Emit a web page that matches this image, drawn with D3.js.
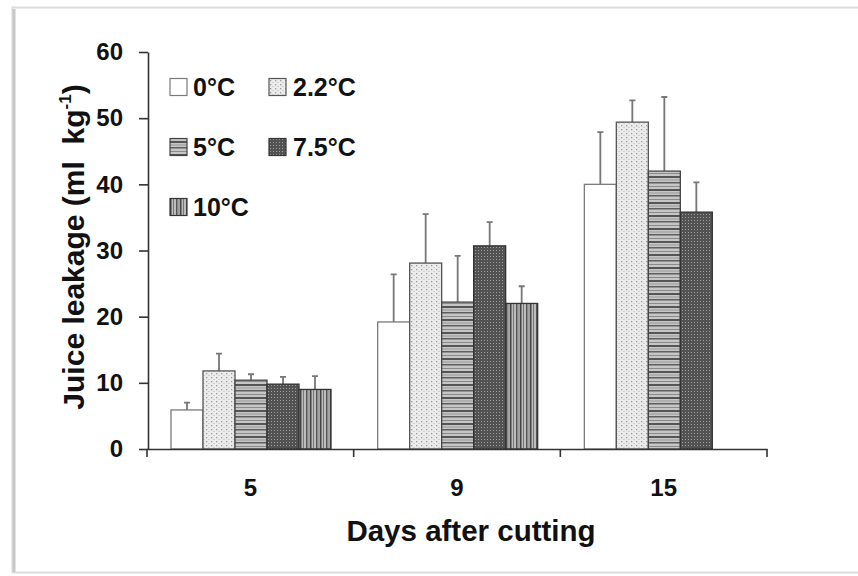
<!DOCTYPE html>
<html>
<head>
<meta charset="utf-8">
<script src="https://cdn.jsdelivr.net/npm/d3@7"></script>
<style>
  body { margin: 0; background: #fff; }
  svg { display: block; font-family: "Liberation Sans", Arial, Helvetica, sans-serif; }
</style>
</head>
<body>
<div id="chart"></div>
<script>
let days = ['5', '9', '15']
let temps = ['0°C', '2.2°C', '5°C', '7.5°C', '10°C']

// mean juice leakage per temperature, one value per day
let leak0 = [5.9, 19.2, 40.0]
let leak22 = [11.8, 28.1, 49.4]
let leak5 = [10.4, 22.2, 42.0]
let leak75 = [9.8, 30.7, 35.8]
let leak10 = [9.0, 22.0, null]

// upper error bar (added on top of the mean)
let err0 = [1.1, 7.2, 7.9]
let err22 = [2.6, 7.4, 3.3]
let err5 = [0.9, 7.0, 11.2]
let err75 = [1.1, 3.6, 4.5]
let err10 = [2.0, 2.6, null]

let yTicks = [0, 10, 20, 30, 40, 50, 60]

let means = [leak0, leak22, leak5, leak75, leak10]
let errs = [err0, err22, err5, err75, err10]
let fills = ['#fff', 'url(#p22)', 'url(#p5)', 'url(#p75)', 'url(#p10)']
let edges = ['#7a7a7a', '#555', '#444', '#333', '#333']

let width = 858,
    height = 576

let svg = d3.select('#chart').append('svg')
    .attr('width', width)
    .attr('height', height)

// card frame
svg.append('rect')
    .attr('x', 12.5).attr('y', 7.5)
    .attr('width', 900).attr('height', 565)
    .attr('fill', '#fff')
    .attr('stroke', '#dcdcdc')
    .attr('stroke-width', 2)
svg.append('line')
    .attr('x1', 14).attr('x2', 14).attr('y1', 9).attr('y2', 572)
    .attr('stroke', '#c8c8c8').attr('stroke-width', 3)

// patterns
let defs = svg.append('defs')

let p22 = defs.append('pattern').attr('id', 'p22')
    .attr('patternUnits', 'userSpaceOnUse').attr('width', 5).attr('height', 4)
p22.append('rect').attr('width', 5).attr('height', 4).attr('fill', '#ececec')
p22.append('rect').attr('x', 1).attr('y', 1).attr('width', 1.3).attr('height', 1.3).attr('fill', '#9a9a9a')
p22.append('rect').attr('x', 3.5).attr('y', 3).attr('width', 1).attr('height', 1).attr('fill', '#b5b5b5')

let p5 = defs.append('pattern').attr('id', 'p5')
    .attr('patternUnits', 'userSpaceOnUse').attr('width', 8).attr('height', 13)
p5.append('rect').attr('width', 8).attr('height', 13).attr('fill', '#c6c6c6')
p5.append('rect').attr('y', 0).attr('width', 8).attr('height', 1.5).attr('fill', '#5e5e5e')
p5.append('rect').attr('y', 4).attr('width', 8).attr('height', 1).attr('fill', '#8a8a8a')
p5.append('rect').attr('y', 7).attr('width', 8).attr('height', 2).attr('fill', '#555')
p5.append('rect').attr('y', 10.5).attr('width', 8).attr('height', 1).attr('fill', '#999')

let p75 = defs.append('pattern').attr('id', 'p75')
    .attr('patternUnits', 'userSpaceOnUse').attr('width', 3).attr('height', 3)
p75.append('rect').attr('width', 3).attr('height', 3).attr('fill', '#525252')
p75.append('rect').attr('x', 1).attr('y', 1).attr('width', 1).attr('height', 1).attr('fill', '#a0a0a0')

let p10 = defs.append('pattern').attr('id', 'p10')
    .attr('patternUnits', 'userSpaceOnUse').attr('width', 10).attr('height', 8)
p10.append('rect').attr('width', 10).attr('height', 8).attr('fill', '#bdbdbd')
p10.append('rect').attr('x', 0).attr('width', 1.5).attr('height', 8).attr('fill', '#444')
p10.append('rect').attr('x', 3).attr('width', 1).attr('height', 8).attr('fill', '#777')
p10.append('rect').attr('x', 6).attr('width', 1.5).attr('height', 8).attr('fill', '#555')
p10.append('rect').attr('x', 8.5).attr('width', 1).attr('height', 8).attr('fill', '#8a8a8a')

// scales
let x = d3.scaleBand().domain(days).range([147, 767])
let xInner = d3.scaleBand().domain(temps).range([24, 184])
let y = d3.scaleLinear().domain([0, 60]).range([449, 52])

// bars
let bars = svg.append('g')
temps.forEach(function(t, i) {
    let rows = days.map(function(d, j) {
        return { day: d, v: means[i][j], e: errs[i][j] }
    }).filter(function(r) { return r.v != null })

    // error bars first, so the bar covers the lower part
    bars.selectAll('.err' + i).data(rows).enter().append('path')
        .attr('fill', 'none')
        .attr('stroke', '#777')
        .attr('stroke-width', 1.8)
        .attr('d', function(r) {
            let cx = x(r.day) + xInner(t) + xInner.bandwidth() / 2
            return 'M' + cx + ',' + y(r.v) + 'V' + y(r.v + r.e) +
                'M' + (cx - 3) + ',' + y(r.v + r.e) + 'H' + (cx + 3)
        })

    bars.selectAll('.bar' + i).data(rows).enter().append('rect')
        .attr('x', function(r) { return x(r.day) + xInner(t) })
        .attr('y', function(r) { return y(r.v) })
        .attr('width', xInner.bandwidth())
        .attr('height', function(r) { return y(0) - y(r.v) })
        .attr('fill', fills[i])
        .attr('stroke', edges[i])
        .attr('stroke-width', 1.3)
})

// y axis
let yAxis = svg.append('g')
    .attr('transform', 'translate(148,0)')
    .call(d3.axisLeft(y).tickValues(yTicks).tickSize(9).tickPadding(16).tickSizeOuter(0))
yAxis.select('.domain').attr('stroke', '#333').attr('stroke-width', 1.6)
yAxis.selectAll('.tick line').attr('stroke', '#333').attr('stroke-width', 1.6)
yAxis.selectAll('.tick text')
    .attr('font-size', 24).attr('font-weight', 'bold').attr('fill', '#111')
    .attr('font-family', '"Liberation Sans", Arial, sans-serif')

// x axis
let xAxis = svg.append('g')
    .attr('transform', 'translate(0,449)')
    .call(d3.axisBottom(x).tickSize(0).tickPadding(30).tickSizeOuter(0))
xAxis.select('.domain').attr('stroke', '#333').attr('stroke-width', 1.6)
xAxis.selectAll('.tick text')
    .attr('font-size', 24).attr('font-weight', 'bold').attr('fill', '#111')
    .attr('font-family', '"Liberation Sans", Arial, sans-serif')
// ticks at the group boundaries
let bounds = days.map(function(d) { return x(d) }).concat([x.range()[1]])
xAxis.selectAll('.bound').data(bounds).enter().append('line')
    .attr('x1', function(d) { return d }).attr('x2', function(d) { return d })
    .attr('y1', 0).attr('y2', 8)
    .attr('stroke', '#333').attr('stroke-width', 1.6)

// axis titles
svg.append('text')
    .attr('x', 471).attr('y', 541)
    .attr('text-anchor', 'middle')
    .attr('font-size', 29.5).attr('font-weight', 'bold').attr('fill', '#111')
    .text('Days after cutting')

let yTitle = svg.append('text')
    .attr('transform', 'translate(84,247) rotate(-90)')
    .attr('text-anchor', 'middle')
    .attr('font-size', 30).attr('font-weight', 'bold').attr('fill', '#111')
yTitle.append('tspan').text('Juice leakage (ml\u00a0\u00a0kg')
yTitle.append('tspan').attr('font-size', 17).attr('dy', -13).text('-1')
yTitle.append('tspan').attr('dy', 13).text(')')

// legend
let legendPos = [[170, 87], [269, 87], [170, 147], [269, 147], [170, 207]]
let legend = svg.append('g')
temps.forEach(function(t, i) {
    let g = legend.append('g')
        .attr('transform', 'translate(' + legendPos[i][0] + ',' + legendPos[i][1] + ')')
    g.append('rect')
        .attr('x', 0).attr('y', -8.5)
        .attr('width', 17).attr('height', 17)
        .attr('fill', fills[i])
        .attr('stroke', edges[i])
        .attr('stroke-width', 1.2)
    g.append('text')
        .attr('x', i % 2 == 0 ? 23 : 24).attr('y', 0).attr('dy', '0.36em')
        .attr('font-size', 25).attr('font-weight', 'bold').attr('fill', '#111')
        .text(t)
})
</script>
</body>
</html>
